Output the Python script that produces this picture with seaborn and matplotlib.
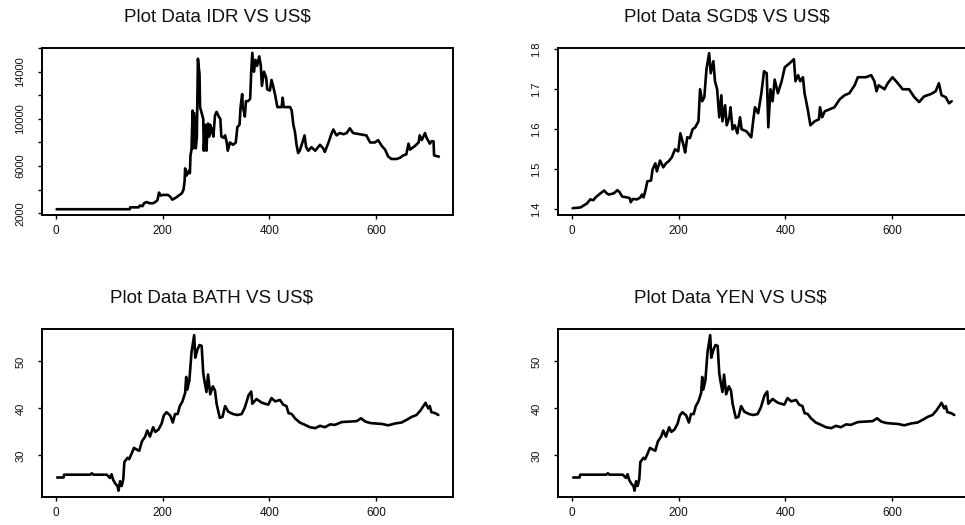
import matplotlib
matplotlib.use("Agg")
import matplotlib.pyplot as plt
import seaborn as sns
import pandas as pd

# ---------------- data ----------------
x_ticks = [0, 200, 400, 600]

idr_t = [1, 138, 139, 155, 157, 162, 165, 170, 175, 182, 186, 190, 193, 196, 200, 210, 214, 218, 224, 230,
         236, 239, 241, 242, 245, 249, 251, 252, 254, 256, 257, 259, 261, 262, 264, 266, 267, 269, 270, 273,
         276, 277, 279, 280, 282, 284, 285, 287, 289, 291, 293, 295, 298, 301, 305, 308, 310, 314, 317, 320,
         322, 326, 332, 337, 340, 344, 346, 349, 350, 353, 354, 356, 360, 364, 366, 368, 371, 374, 377, 381,
         384, 386, 390, 394, 396, 401, 404, 407, 411, 415, 423, 425, 427, 439, 442, 445, 448, 451, 454, 457,
         462, 466, 469, 473, 479, 486, 495, 501, 504, 511, 517, 520, 526, 532, 539, 545, 551, 557, 570, 582,
         589, 598, 604, 611, 617, 623, 629, 639, 645, 651, 657, 661, 664, 673, 680, 682, 686, 692, 695, 701,
         704, 708, 709, 718]
idr_v = [2340, 2340, 2500, 2500, 2650, 2600, 2850, 2950, 2850, 2850, 2950, 3100, 3750, 3500, 3550, 3550, 3400, 3150, 3300, 3500,
         3700, 4000, 4700, 5800, 5200, 5600, 5400, 6900, 7400, 10700, 7500, 10500, 8500, 7500, 8500, 15100, 14600, 13800, 11000, 10500,
         10000, 7300, 9000, 9500, 7300, 9300, 9600, 8500, 9500, 8800, 9200, 8500, 10300, 10600, 10200, 10000, 8500, 8400, 8600, 8000,
         7300, 8000, 7800, 8000, 9300, 9500, 11000, 12100, 11000, 10500, 10200, 11500, 11500, 11700, 14000, 15600, 14000, 15000, 14500, 15300,
         14500, 12800, 14000, 13500, 12500, 12400, 13300, 12800, 12000, 11000, 11000, 11800, 11000, 11000, 10700, 9500, 8900, 7800, 7100, 7300,
         8000, 8600, 7600, 7300, 7600, 7300, 7800, 7500, 7200, 8000, 8800, 9100, 8600, 8800, 8700, 8800, 9200, 8800, 8700, 8600,
         8000, 8000, 8200, 7700, 7400, 6800, 6600, 6600, 6700, 6900, 7000, 7900, 7400, 7700, 8000, 8600, 8200, 8800, 8400, 7900,
         8100, 8100, 6900, 6800]

sgd_t = [1, 10, 16, 22, 28, 34, 40, 44, 53, 60, 65, 69, 78, 85, 89, 94, 103, 108, 110, 114,
         122, 128, 131, 134, 138, 141, 148, 151, 156, 159, 165, 171, 176, 181, 187, 193, 199, 203, 209, 212,
         216, 221, 226, 231, 237, 240, 244, 248, 252, 257, 260, 265, 268, 272, 276, 280, 282, 287, 290, 295,
         297, 301, 305, 310, 315, 318, 327, 336, 340, 343, 349, 355, 360, 365, 368, 372, 376, 380, 386, 393,
         399, 408, 416, 419, 424, 428, 433, 436, 442, 447, 455, 463, 465, 469, 474, 483, 492, 502, 511, 520,
         530, 536, 551, 561, 567, 571, 575, 586, 592, 601, 611, 620, 632, 642, 651, 660, 673, 682, 688, 693,
         701, 707, 712]
sgd_v = [1.403, 1.404, 1.405, 1.41, 1.415, 1.425, 1.423, 1.43, 1.44, 1.447, 1.44, 1.437, 1.44, 1.448, 1.443, 1.432, 1.43, 1.428, 1.418, 1.426,
         1.425, 1.43, 1.437, 1.43, 1.45, 1.47, 1.472, 1.50, 1.515, 1.495, 1.522, 1.505, 1.515, 1.52, 1.53, 1.55, 1.545, 1.59, 1.56, 1.542,
         1.58, 1.578, 1.60, 1.605, 1.62, 1.70, 1.67, 1.68, 1.75, 1.79, 1.74, 1.77, 1.72, 1.70, 1.63, 1.685, 1.62, 1.66, 1.61, 1.63,
         1.655, 1.60, 1.61, 1.59, 1.63, 1.60, 1.595, 1.58, 1.625, 1.655, 1.64, 1.69, 1.745, 1.74, 1.605, 1.70, 1.67, 1.724, 1.69, 1.72,
         1.755, 1.765, 1.775, 1.72, 1.735, 1.72, 1.73, 1.69, 1.65, 1.61, 1.62, 1.625, 1.655, 1.63, 1.645, 1.65, 1.655, 1.675, 1.685, 1.69,
         1.71, 1.73, 1.73, 1.735, 1.72, 1.695, 1.71, 1.70, 1.715, 1.73, 1.715, 1.70, 1.70, 1.68, 1.668, 1.682, 1.688, 1.695, 1.715, 1.685,
         1.68, 1.665, 1.67]

bath_t = [2, 14, 15, 64, 67, 70, 95, 101, 104, 107, 111, 115, 117, 120, 123, 126, 128, 134, 137, 142,
          146, 152, 156, 161, 167, 171, 176, 182, 186, 192, 198, 202, 207, 214, 219, 223, 228, 232, 237, 242,
          244, 246, 250, 254, 259, 261, 265, 269, 273, 276, 278, 282, 285, 289, 294, 298, 301, 307, 312, 317,
          323, 332, 340, 348, 354, 361, 366, 368, 372, 376, 386, 398, 404, 411, 420, 426, 432, 436, 442, 448,
          457, 467, 476, 486, 495, 504, 514, 523, 536, 551, 564, 572, 580, 589, 598, 611, 623, 636, 648, 658,
          667, 676, 683, 689, 693, 698, 701, 704, 711, 717]
bath_v = [25.3, 25.3, 25.9, 25.9, 26.2, 25.9, 25.9, 25.2, 26.0, 24.8, 24.0, 23.5, 22.5, 24.5, 23.5, 25.0, 28.6, 29.5, 29.2, 30.5,
          31.6, 31.2, 31.0, 33.0, 34.0, 35.3, 34.0, 36.0, 35.0, 35.5, 36.8, 38.5, 39.2, 38.5, 37.0, 38.8, 38.8, 40.5, 41.5, 43.3,
          46.7, 44.0, 46.0, 52.0, 55.6, 50.8, 52.5, 53.5, 53.3, 47.5, 46.0, 43.5, 47.2, 43.0, 44.7, 43.8, 41.0, 38.0, 38.2, 40.5,
          39.3, 38.8, 38.6, 38.8, 40.2, 42.8, 43.6, 41.0, 41.5, 42.0, 41.2, 40.8, 42.2, 41.5, 41.8, 40.8, 40.5, 39.0, 38.8, 37.9,
          37.0, 36.5, 36.0, 35.8, 36.3, 36.0, 36.6, 36.5, 37.1, 37.2, 37.3, 37.9, 37.2, 36.9, 36.8, 36.7, 36.4, 36.8, 37.0, 37.6,
          38.2, 38.6, 39.5, 40.5, 41.2, 40.0, 40.5, 39.2, 39.0, 38.6]

yen_t = list(bath_t)
yen_v = list(bath_v)

idr_yticks = [2000, 4000, 6000, 8000, 10000, 12000, 14000, 16000]
idr_ylabels = ["2000", "", "6000", "", "10000", "", "14000", ""]
sgd_yticks = [1.4, 1.5, 1.6, 1.7, 1.8]
sgd_ylabels = ["1.4", "1.5", "1.6", "1.7", "1.8"]
thb_yticks = [30, 40, 50]
thb_ylabels = ["30", "40", "50"]

titles = ["Plot Data IDR VS US$", "Plot Data SGD$ VS US$", "Plot Data BATH VS US$", "Plot Data YEN VS US$"]

# ---------------- drawing ----------------
sns.set_style("white")
plt.rcParams['font.family'] = ['Liberation Sans', 'DejaVu Sans']

W, H = 965, 525
fig = plt.figure(figsize=(W / 100, H / 100), dpi=100)


def add_px_axes(l, t, r, b):
    return fig.add_axes([l / W, 1 - b / H, (r - l) / W, (b - t) / H])


panels = [
    dict(t=idr_t, v=idr_v, box=(42, 48, 453, 215), ylim=(1850, 16010),
         yt=idr_yticks, yl=idr_ylabels, title=titles[0], tpos=(217, 17)),
    dict(t=sgd_t, v=sgd_v, box=(558, 48, 969, 215), ylim=(1.386, 1.803),
         yt=sgd_yticks, yl=sgd_ylabels, title=titles[1], tpos=(727, 17)),
    dict(t=bath_t, v=bath_v, box=(42, 329, 453, 497), ylim=(21.15, 56.9),
         yt=thb_yticks, yl=thb_ylabels, title=titles[2], tpos=(212, 298)),
    dict(t=yen_t, v=yen_v, box=(558, 329, 969, 497), ylim=(21.15, 56.9),
         yt=thb_yticks, yl=thb_ylabels, title=titles[3], tpos=(730, 298)),
]

for p in panels:
    ax = add_px_axes(*p["box"])
    df = pd.DataFrame({"t": p["t"], "v": p["v"]})
    sns.lineplot(data=df, x="t", y="v", ax=ax, color="black", linewidth=1.9, estimator=None)
    ax.set_xlim(-26.5, 744.5)
    ax.set_ylim(*p["ylim"])
    ax.set_xticks(x_ticks)
    ax.set_xticklabels([str(x) for x in x_ticks])
    ax.set_yticks(p["yt"])
    ax.set_yticklabels(p["yl"], rotation=90, va="center")
    ax.set_xlabel("")
    ax.set_ylabel("")
    for s in ax.spines.values():
        s.set_visible(True)
        s.set_color("black")
        s.set_linewidth(1.4)
    ax.tick_params(axis="x", direction="out", length=3, width=1, color="black",
                   labelsize=8.5, pad=4, bottom=True, labelcolor="#111111")
    ax.tick_params(axis="y", direction="out", length=3, width=1, color="black",
                   labelsize=8, pad=9, left=True, labelcolor="#111111")
    ax.grid(False)
    fig.text(p["tpos"][0] / W, 1 - p["tpos"][1] / H, p["title"].replace("$", r"\$"),
             ha="center", va="center", fontsize=13.5, color="#111111")

fig.savefig("out.png", dpi=100, facecolor="white")
